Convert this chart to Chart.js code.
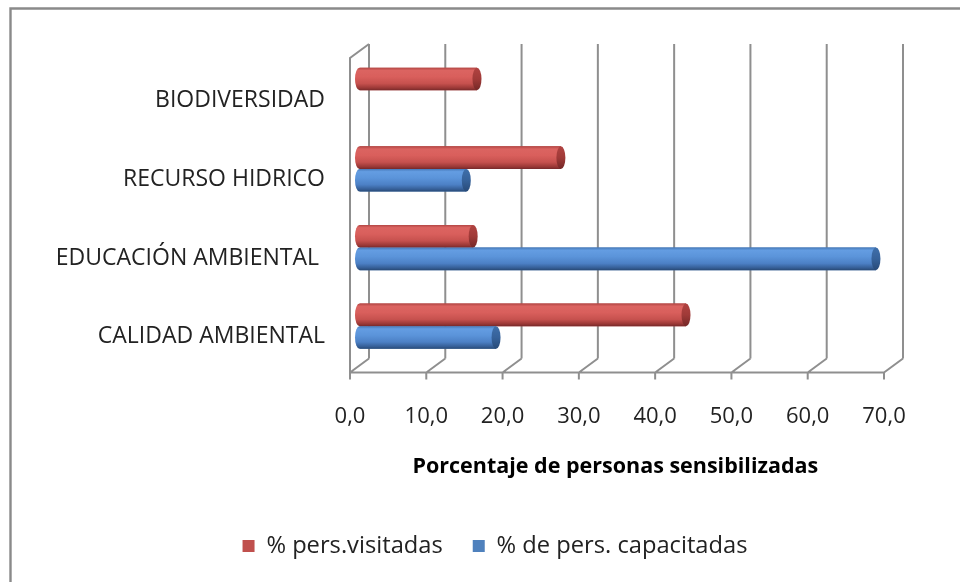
<!DOCTYPE html>
<html>
<head>
<meta charset="utf-8">
<script src="https://cdn.jsdelivr.net/npm/chart.js@4.4.1/dist/chart.umd.min.js"></script>
<style>
html,body{margin:0;padding:0;background:#fff;}
canvas{display:block;}
</style>
</head>
<body>
<canvas id="c" width="960" height="582"></canvas>
<script>
// ---- data ----
const categories = ['BIODIVERSIDAD', 'RECURSO HIDRICO', 'EDUCACIÓN AMBIENTAL ', 'CALIDAD AMBIENTAL'];
const visitadas = [15.4, 26.4, 14.9, 42.8];
const capacitadas = [null, 14.0, 67.7, 17.9];
const seriesNames = ['% pers.visitadas', '% de pers. capacitadas'];
const xTickLabels = ['0,0', '10,0', '20,0', '30,0', '40,0', '50,0', '60,0', '70,0'];
const axisTitle = 'Porcentaje de personas sensibilizadas    ';

// ---- styles ----
const FONT = "'Open Sans', Lato, sans-serif";
const TXT = '#222222';
const FRAME = '#8f8f8f';
const DX = 9.5, DY = 7;
const W = 960, H = 582;
const PAD = {left: 0, right: 66.5, top: 51, bottom: 14.15};
const PLOT_LEFT = 359.5, PLOT_BOTTOM = 365.5;
const LEGEND_SHIFT = 48.25;

const STYLE = [
  { base: '#c0504d',
    body: [[0,'#b24644'],[0.12,'#db6461'],[0.4,'#d95f5c'],[0.7,'#c6514e'],[0.9,'#9a3836'],[1,'#76292a']],
    cap:  [[0,'#b04341'],[0.5,'#a03a38'],[1,'#742827']] },
  { base: '#4f81bd',
    body: [[0,'#4679b8'],[0.12,'#649de2'],[0.4,'#5b94da'],[0.7,'#4c80c5'],[0.9,'#355e96'],[1,'#284974']],
    cap:  [[0,'#3f6faa'],[0.5,'#36629a'],[1,'#284a78']] }
];

function grad(ctx, y0, y1, stops) {
  const g = ctx.createLinearGradient(0, y0, 0, y1);
  stops.forEach(s => g.addColorStop(s[0], s[1]));
  return g;
}

const frame3d = {
  id: 'frame3d',
  afterLayout(chart) {
    const lg = chart.legend;
    if (lg) { lg.left += LEGEND_SHIFT; lg.right += LEGEND_SHIFT; }
  },
  beforeDraw(chart) {
    const c = chart.ctx;
    c.save();
    c.fillStyle = '#fff';
    c.fillRect(0, 0, chart.width, chart.height);
    c.strokeStyle = '#8a8a8a';
    c.lineWidth = 2.4;
    c.beginPath();
    c.moveTo(10.5, chart.height + 5);
    c.lineTo(10.5, 8.5);
    c.lineTo(chart.width + 5, 8.5);
    c.stroke();
    c.restore();
  },
  beforeDatasetsDraw(chart) {
    const {ctx, chartArea: {top, bottom}, scales: {x}} = chart;
    const vals = x.ticks.map(t => t.value);
    const x0 = x.getPixelForValue(vals[0]);
    const xN = x.getPixelForValue(vals[vals.length - 1]);
    ctx.save();
    ctx.strokeStyle = FRAME;
    ctx.lineWidth = 2;
    ctx.beginPath();
    vals.forEach(v => {
      const xm = x.getPixelForValue(v);
      ctx.moveTo(xm + DX, top - DY); ctx.lineTo(xm + DX, bottom - DY);
      ctx.moveTo(xm - DX, bottom + DY); ctx.lineTo(xm + DX, bottom - DY);
      ctx.moveTo(xm - DX, bottom + DY); ctx.lineTo(xm - DX, bottom + DY + 7);
    });
    ctx.moveTo(x0 - DX, bottom + DY); ctx.lineTo(xN - DX, bottom + DY);
    ctx.moveTo(x0 - DX, bottom + DY); ctx.lineTo(x0 - DX, top + DY); ctx.lineTo(x0 + DX, top - DY);
    ctx.stroke();
    ctx.restore();
  },
  afterDatasetsDraw(chart) {
    const ctx = chart.ctx;
    chart.data.datasets.forEach((ds, di) => {
      const meta = chart.getDatasetMeta(di);
      if (meta.hidden) return;
      const st = STYLE[di];
      meta.data.forEach((el, i) => {
        if (ds.data[i] == null) return;
        const p = el.getProps(['x', 'y', 'base', 'height'], true);
        const t = p.y - p.height / 2, b = p.y + p.height / 2;
        const rx = 4.5, ry = p.height / 2;
        ctx.save();
        ctx.fillStyle = grad(ctx, t, b, st.body);
        ctx.beginPath();
        ctx.moveTo(p.x, t);
        ctx.lineTo(p.base, t);
        ctx.ellipse(p.base, p.y, rx, ry, 0, -Math.PI / 2, Math.PI / 2, true);
        ctx.lineTo(p.x, b);
        ctx.closePath();
        ctx.fill();
        ctx.fillStyle = grad(ctx, t, b, st.cap);
        ctx.beginPath();
        ctx.ellipse(p.x, p.y, rx, ry, 0, 0, Math.PI * 2);
        ctx.fill();
        ctx.restore();
      });
    });
  }
};

new Chart(document.getElementById('c'), {
  type: 'bar',
  data: {
    labels: categories,
    datasets: [
      { label: seriesNames[0], data: visitadas, backgroundColor: STYLE[0].base, borderWidth: 0,
        categoryPercentage: 0.575, barPercentage: 1 },
      { label: seriesNames[1], data: capacitadas, backgroundColor: STYLE[1].base, borderWidth: 0,
        categoryPercentage: 0.575, barPercentage: 1 }
    ]
  },
  options: {
    indexAxis: 'y',
    responsive: false,
    animation: false,
    layout: { padding: PAD },
    plugins: {
      legend: {
        position: 'bottom',
        labels: { boxWidth: 12, boxHeight: 12, padding: 30, color: TXT, font: { family: FONT, size: 23.7 } }
      },
      tooltip: { enabled: false }
    },
    scales: {
      x: {
        min: 0, max: 70,
        ticks: { stepSize: 10, autoSkip: false, maxRotation: 0, padding: 30.5, labelOffset: -9.5, color: TXT,
                 font: { family: FONT, size: 22 },
                 callback: (v, i) => xTickLabels[i] },
        grid: { display: false },
        border: { display: false },
        title: { display: true, text: axisTitle, color: '#000', font: { family: FONT, size: 21.5, weight: 'bold' },
                 padding: { top: 0, bottom: 24.25 } },
        afterFit(s) {
          const lg = s.chart.legend;
          s.height = H - PAD.bottom - (lg ? lg.height : 0) - PLOT_BOTTOM;
        }
      },
      y: {
        ticks: { autoSkip: false, padding: 26.5, labelOffset: 10.5, color: TXT, font: { family: FONT, size: 23 } },
        grid: { display: false },
        border: { display: false },
        afterFit(s) { s.width = PLOT_LEFT - PAD.left; }
      }
    }
  },
  plugins: [frame3d]
});
</script>
</body>
</html>
